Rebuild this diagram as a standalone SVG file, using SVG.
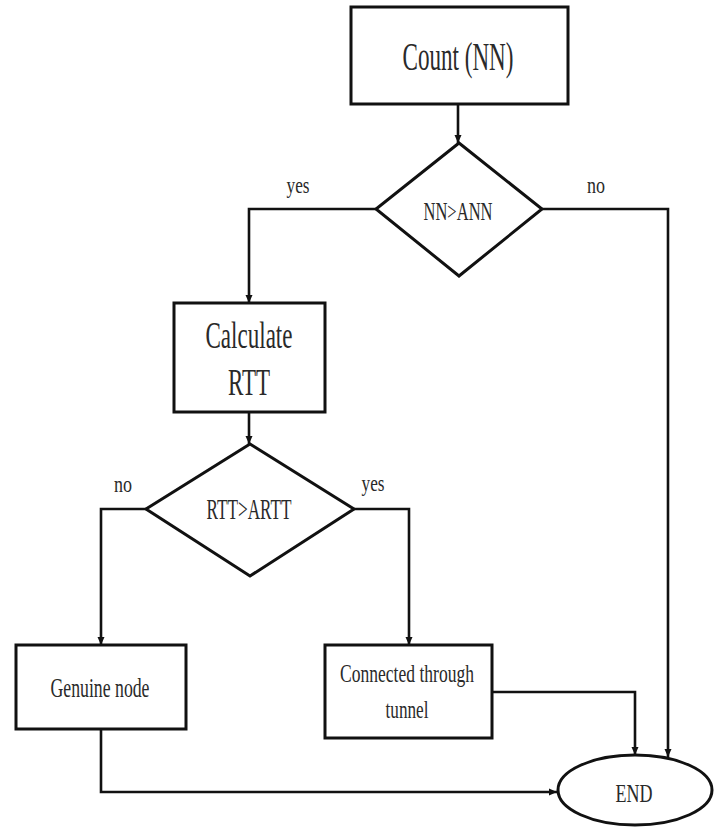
<svg xmlns="http://www.w3.org/2000/svg" width="720" height="827" viewBox="0 0 720 827">
<style>
.shape{fill:#fff;stroke:#111;stroke-width:3}
.conn{fill:none;stroke:#111;stroke-width:2.6}
text{font-family:"Liberation Serif","Times New Roman",serif;fill:#2a2a2a;text-anchor:middle}
</style>
<defs>
<marker id="arr" markerUnits="userSpaceOnUse" markerWidth="9" markerHeight="9" refX="8" refY="4" orient="auto">
<path d="M0,0.5 L8,4 L0,7.5 z" fill="#111"/>
</marker>
</defs>
<rect width="720" height="827" fill="#fff"/>
<g id="connectors">
<path class="conn" d="M458,104 V143" marker-end="url(#arr)"/>
<path class="conn" d="M376,209 H249 V303" marker-end="url(#arr)"/>
<path class="conn" d="M542,209 H668 V757" marker-end="url(#arr)"/>
<path class="conn" d="M249,412 V444" marker-end="url(#arr)"/>
<path class="conn" d="M146,509 H101 V645" marker-end="url(#arr)"/>
<path class="conn" d="M354,509 H409 V645" marker-end="url(#arr)"/>
<path class="conn" d="M101,729 V792 H557" marker-end="url(#arr)"/>
<path class="conn" d="M492,692 H635 V755" marker-end="url(#arr)"/>
<text x="298" y="193" font-size="24" textLength="23" lengthAdjust="spacingAndGlyphs">yes</text>
<text x="596" y="193" font-size="24" textLength="18" lengthAdjust="spacingAndGlyphs">no</text>
<text x="123" y="492" font-size="24" textLength="18" lengthAdjust="spacingAndGlyphs">no</text>
<text x="373" y="491" font-size="24" textLength="23" lengthAdjust="spacingAndGlyphs">yes</text>
</g>
<g id="count">
<rect class="shape" x="351" y="7" width="217" height="97"/>
<text x="458" y="70" font-size="40" textLength="111" lengthAdjust="spacingAndGlyphs">Count (NN)</text>
</g>
<g id="decision1">
<polygon class="shape" points="459,143 542,209 459,276 376,209"/>
<text x="458" y="220" font-size="26" textLength="69" lengthAdjust="spacingAndGlyphs">NN&gt;ANN</text>
</g>
<g id="calculate">
<rect class="shape" x="174" y="303" width="151" height="109"/>
<text x="249" y="348" font-size="38" textLength="87" lengthAdjust="spacingAndGlyphs">Calculate</text>
<text x="249" y="395" font-size="38" textLength="42" lengthAdjust="spacingAndGlyphs">RTT</text>
</g>
<g id="decision2">
<polygon class="shape" points="250,444 354,509 250,576 146,509"/>
<text x="249" y="519" font-size="30" textLength="85" lengthAdjust="spacingAndGlyphs">RTT&gt;ARTT</text>
</g>
<g id="genuine">
<rect class="shape" x="16" y="645" width="170" height="84"/>
<text x="100" y="697" font-size="28" textLength="99" lengthAdjust="spacingAndGlyphs">Genuine node</text>
</g>
<g id="tunnel">
<rect class="shape" x="325" y="645" width="167" height="93"/>
<text x="407" y="682" font-size="26" textLength="134" lengthAdjust="spacingAndGlyphs">Connected through</text>
<text x="407" y="718" font-size="26" textLength="43" lengthAdjust="spacingAndGlyphs">tunnel</text>
</g>
<g id="end">
<ellipse class="shape" cx="635" cy="790" rx="77" ry="35"/>
<text x="634" y="802" font-size="26" textLength="37" lengthAdjust="spacingAndGlyphs">END</text>
</g>
</svg>
